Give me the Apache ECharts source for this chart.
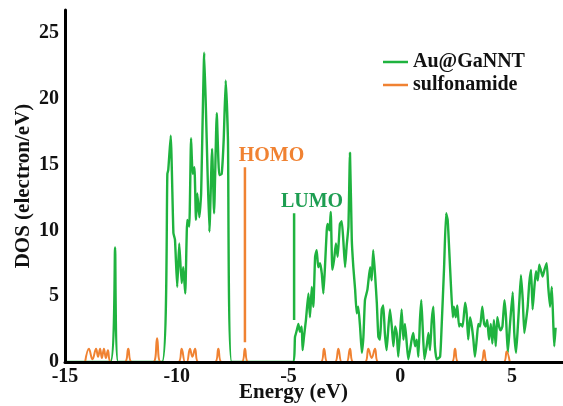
<!DOCTYPE html>
<html>
<head>
<meta charset="utf-8">
<script src="https://cdn.jsdelivr.net/npm/echarts@6.0.0/dist/echarts.min.js"></script>
<title>DOS</title>
<style>
  html, body { margin: 0; padding: 0; background: #fff; }
  #chart { width: 563px; height: 406px; }
</style>
</head>
<body>
<div id="chart"></div>
<script>
// Au@GaNNT DOS
var auEnergy = [-15, -12.97, -12.76, -12.62, -10.66,
  -10.42, -10.38, -10.27, -10.15, -10.08, -9.98, -9.89, -9.78, -9.71, -9.62,
  -9.53, -9.44, -9.36, -9.29, -9.21, -9.14, -9.08, -8.99, -8.91, -8.77,
  -8.66, -8.54, -8.42, -8.33, -8.21, -8.10, -7.99, -7.90, -7.81, -7.71, -7.54,
  -4.81, -4.71, -4.63, -4.56, -4.49, -4.41, -4.37, -4.31, -4.22, -4.11,
  -4.04, -3.96, -3.89, -3.81, -3.74, -3.67, -3.59, -3.51, -3.44, -3.37,
  -3.29, -3.25, -3.17, -3.11, -3.04, -2.96, -2.88, -2.80, -2.70, -2.62,
  -2.55, -2.47, -2.40, -2.32, -2.25, -2.17, -2.10, -2.02, -1.95, -1.88,
  -1.80, -1.72, -1.65, -1.58, -1.47, -1.35, -1.28, -1.21, -1.13, -1.05,
  -0.98, -0.91, -0.83, -0.76, -0.69, -0.61, -0.53, -0.46, -0.38, -0.31,
  -0.23, -0.16, -0.09, -0.01, 0.06, 0.14, 0.21, 0.29, 0.36, 0.51,
  0.58, 0.66, 0.74, 0.81, 0.88, 0.94, 1.00, 1.08, 1.18, 1.26,
  1.33, 1.41, 1.48, 1.55, 1.63, 1.78, 1.85, 1.96, 2.05, 2.12,
  2.19, 2.27, 2.35, 2.40, 2.48, 2.55, 2.63, 2.70, 2.79, 2.90,
  2.97, 3.04, 3.12, 3.20, 3.27, 3.34, 3.42, 3.49, 3.57, 3.67,
  3.75, 3.82, 3.89, 3.97, 4.05, 4.12, 4.19, 4.27, 4.34, 4.42,
  4.49, 4.57, 4.66, 4.73, 4.81, 4.91, 5.03, 5.10, 5.18, 5.26,
  5.33, 5.40, 5.48, 5.55, 5.63, 5.70, 5.77, 5.85, 5.92, 6.00,
  6.07, 6.15, 6.22, 6.30, 6.37, 6.45, 6.55, 6.62, 6.70, 6.78,
  6.85, 6.89, 6.95];
var auDos = [0, 0, 8.7, 0, 0,
  14.3, 14.6, 17.2, 9.8, 9.3, 5.7, 9.0, 6.0, 7.2, 5.2,
  10.8, 10.3, 17.0, 14.3, 14.8, 10.8, 12.8, 11.0, 12.8, 23.5,
  16.9, 9.9, 16.2, 11.3, 18.9, 14.2, 14.3, 16.9, 21.4, 16.9, 0,
  0, 1.9, 2.4, 2.9, 2.3, 2.7, 0.9, 1.9, 3.2, 5.2,
  3.4, 5.7, 4.2, 8.0, 8.5, 7.2, 7.5, 6.7, 5.2, 7.2,
  10.0, 10.5, 10.0, 11.4, 7.0, 7.8, 9.0, 8.0, 10.5, 10.7,
  9.3, 7.2, 8.8, 10.3, 15.9, 9.3, 7.2, 5.5, 3.7, 4.2,
  2.7, 0.7, 1.9, 4.7, 5.5, 7.2, 6.2, 8.5, 6.7, 4.5,
  1.9, 1.7, 4.0, 4.3, 2.2, 0.9, 2.7, 4.0, 2.7, 1.2,
  2.7, 2.2, 0.4, 2.2, 4.0, 1.7, 2.9, 1.4, 0.2, 1.7,
  2.2, 1.2, 1.7, 0.4, 3.2, 4.7, 2.7, 0.2, 1.2, 2.2,
  0.9, 3.2, 4.2, 1.2, 0.2, 0.4, 2.7, 7.2, 11.3, 10.8,
  8.5, 5.7, 3.4, 4.2, 3.4, 4.3, 2.7, 2.9, 2.7, 4.5,
  3.7, 1.7, 3.4, 2.7, 1.7, 0.4, 1.7, 2.9, 2.7, 4.2,
  2.9, 2.7, 3.2, 1.7, 2.9, 1.4, 3.2, 1.2, 3.4, 2.7,
  2.4, 2.7, 4.7, 3.4, 0.7, 2.9, 5.3, 2.2, 0.7, 2.7,
  4.7, 6.6, 4.7, 2.2, 3.2, 4.2, 6.0, 7.0, 4.0, 5.7,
  6.9, 6.2, 7.4, 6.9, 6.5, 7.0, 7.5, 5.7, 4.2, 5.7,
  2.7, 1.2, 2.6];

// sulfonamide DOS
var sulEnergy = [-14.10, -13.93, -13.77, -13.61, -13.52, -13.43, -13.35, -13.26, -13.17, -13.08, -12.94,
  -12.33, -12.17, -12.01,
  -11.05, -10.88, -10.72,
  -9.93, -9.78, -9.63,
  -9.55, -9.41, -9.30, -9.18, -9.03,
  -8.29, -8.14, -7.99,
  -7.10, -6.95, -6.80,
  -3.56, -3.41, -3.26,
  -2.92, -2.77, -2.62,
  -2.40, -2.25, -2.10,
  -1.58, -1.43, -1.28, -1.13, -0.98,
  2.30, 2.45, 2.60,
  3.60, 3.75, 3.90,
  4.62, 4.76, 4.90];
var sulDos = [0, 1.0, 0.2, 1.0, 0.4, 1.0, 0.3, 1.0, 0.3, 0.9, 0,
  0, 1.0, 0,
  0, 1.8, 0,
  0, 1.0, 0,
  0, 1.0, 0.4, 1.0, 0,
  0, 1.0, 0,
  0, 1.0, 0,
  0, 1.0, 0,
  0, 1.0, 0,
  0, 1.0, 0,
  0, 1.0, 0.3, 1.0, 0,
  0, 1.0, 0,
  0, 0.9, 0,
  0, 0.8, 0];

// HOMO / LUMO markers: energy and the DOS range of the bar
var homoE = -6.95, homoRange = [1.5, 14.8];
var lumoE = -4.75, lumoRange = [3.2, 11.3];
var homoLabelAt = [-5.76, 15.7];
var lumoLabelAt = [-3.95, 12.2];

var xTicks = [-15, -10, -5, 0, 5];
var yTicks = [0, 5, 10, 15, 20, 25];

var green = '#1fb33f';
var orange = '#f08232';
var font = 'Liberation Serif';

function pairs(xs, ys) {
  var out = [];
  for (var i = 0; i < xs.length; i++) out.push([xs[i], ys[i]]);
  return out;
}

var chart = echarts.init(document.getElementById('chart'));
chart.setOption({
  animation: false,
  backgroundColor: '#fff',
  grid: { left: 65, right: 0, top: 10, bottom: 44 },
  legend: {
    data: [
      { name: 'Au@GaNNT', icon: 'rect' },
      { name: 'sulfonamide', icon: 'rect' }
    ],
    orient: 'vertical',
    left: 378,
    top: 47,
    itemWidth: 25,
    itemHeight: 2.5,
    itemGap: 3,
    textStyle: { fontFamily: font, fontWeight: 'bold', fontSize: 20, color: '#111', padding: [0, 0, 5, 0] }
  },
  xAxis: {
    type: 'value',
    min: -15,
    max: 7.28,
    interval: 5,
    z: 10,
    axisLine: { onZero: false, lineStyle: { color: '#000', width: 3 } },
    axisTick: { show: false },
    splitLine: { show: false },
    axisLabel: {
      margin: 5, showMaxLabel: false,
      fontFamily: font, fontWeight: 'bold', fontSize: 20, color: '#111',
      formatter: function (v) { return xTicks.indexOf(v) >= 0 ? String(v) : ''; }
    }
  },
  yAxis: {
    type: 'value',
    min: 0,
    max: 26.75,
    interval: 5,
    z: 10,
    name: 'DOS (electron/eV)',
    nameLocation: 'middle',
    nameRotate: 90,
    nameGap: 31,
    nameMoveOverlap: false,
    nameTextStyle: { fontFamily: font, fontWeight: 'bold', fontSize: 21, color: '#111' },
    axisLine: { show: true, onZero: false, lineStyle: { color: '#000', width: 3 } },
    axisTick: { show: false },
    splitLine: { show: false },
    axisLabel: {
      margin: 6, showMaxLabel: false,
      fontFamily: font, fontWeight: 'bold', fontSize: 20, color: '#111',
      formatter: function (v) { return yTicks.indexOf(v) >= 0 ? String(v) : ''; }
    }
  },
  graphic: [{
    type: 'text',
    x: 293.5, y: 393,
    style: {
      text: 'Energy (eV)', fill: '#111',
      font: 'bold 21px "' + font + '"',
      textAlign: 'center', textVerticalAlign: 'middle'
    }
  }],
  series: [
    {
      name: 'Au@GaNNT', type: 'line', symbol: 'none',
      smooth: 0.15,
      data: pairs(auEnergy, auDos),
      lineStyle: { color: green, width: 2.4 },
      itemStyle: { color: green }
    },
    {
      name: 'sulfonamide', type: 'line', symbol: 'none',
      smooth: 0.4,
      data: pairs(sulEnergy, sulDos),
      lineStyle: { color: orange, width: 2 },
      itemStyle: { color: orange }
    },
    {
      name: 'HOMO', type: 'line', symbol: 'none',
      data: [[homoE, homoRange[0]], [homoE, homoRange[1]]],
      lineStyle: { color: orange, width: 2.5 },
      markPoint: {
        symbol: 'circle', symbolSize: 0,
        data: [{ coord: homoLabelAt }],
        label: {
          show: true, position: 'inside', formatter: 'HOMO',
          fontFamily: font, fontWeight: 'bold', fontSize: 20, color: orange
        }
      }
    },
    {
      name: 'LUMO', type: 'line', symbol: 'none',
      data: [[lumoE, lumoRange[0]], [lumoE, lumoRange[1]]],
      lineStyle: { color: green, width: 2.5 },
      markPoint: {
        symbol: 'circle', symbolSize: 0,
        data: [{ coord: lumoLabelAt }],
        label: {
          show: true, position: 'inside', formatter: 'LUMO',
          fontFamily: font, fontWeight: 'bold', fontSize: 20, color: '#1e9e52'
        }
      }
    }
  ]
});
</script>
</body>
</html>
